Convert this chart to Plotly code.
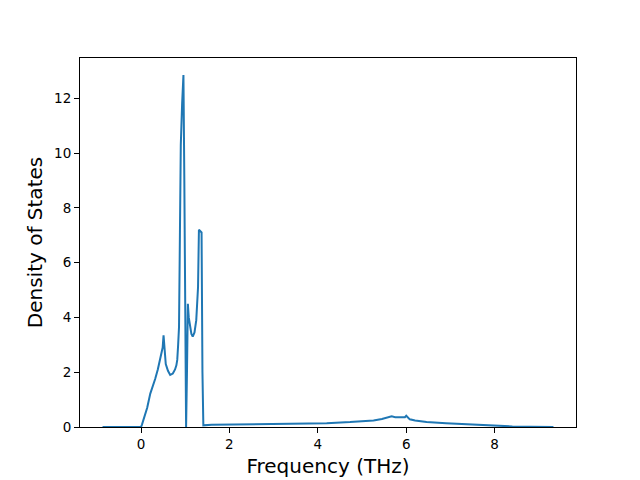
import plotly.graph_objects as go

freq = [-0.87, -0.5, 0.0, 0.02, 0.08, 0.14, 0.21, 0.27, 0.32, 0.38, 0.44, 0.49, 0.51, 0.53, 0.56, 0.61, 0.66, 0.72, 0.77, 0.80, 0.82, 0.84, 0.86, 0.88, 0.90, 0.93, 0.96, 0.98, 1.00, 1.02, 1.04, 1.06, 1.08, 1.11, 1.14, 1.17, 1.21, 1.25, 1.27, 1.29, 1.31, 1.33, 1.37, 1.39, 1.41, 1.6, 2.0, 2.5, 3.0, 3.6, 4.2, 4.73, 5.0, 5.26, 5.45, 5.56, 5.62, 5.67, 5.75, 5.85, 5.93, 5.97, 6.0, 6.04, 6.08, 6.2, 6.46, 6.9, 7.37, 7.8, 8.12, 8.4, 8.8, 9.33]
dos = [0.0, 0.0, 0.0, 0.08, 0.35, 0.7, 1.22, 1.5, 1.75, 2.1, 2.5, 2.9, 3.35, 2.8, 2.3, 2.05, 1.9, 1.95, 2.1, 2.25, 2.45, 3.0, 3.65, 7.0, 10.3, 11.8, 12.85, 9.0, 3.0, 0.0, 2.0, 4.5, 4.0, 3.65, 3.4, 3.3, 3.45, 3.9, 4.4, 5.1, 7.2, 7.15, 7.1, 2.0, 0.06, 0.08, 0.09, 0.09, 0.1, 0.12, 0.14, 0.18, 0.2, 0.24, 0.29, 0.33, 0.36, 0.39, 0.36, 0.36, 0.34, 0.36, 0.41, 0.34, 0.28, 0.24, 0.18, 0.14, 0.1, 0.07, 0.04, 0.02, 0.01, 0.0]

fig = go.Figure()
fig.add_trace(go.Scatter(x=freq, y=dos, mode="lines",
                         line=dict(color="#1f77b4", width=2), showlegend=False))

axis_common = dict(showgrid=False, zeroline=False, showline=True, linecolor="black",
                   linewidth=1, mirror=True, ticks="outside", ticklen=5, tickwidth=1,
                   tickcolor="black", automargin=False,
                   tickfont=dict(family="DejaVu Sans", size=13.5, color="black"))

fig.update_xaxes(range=[-1.38, 9.84], tickvals=[0, 2, 4, 6, 8],
                 title=dict(text="Frequency (THz)", font=dict(family="DejaVu Sans", size=20, color="black"), standoff=7),
                 **axis_common)
fig.update_yaxes(range=[0, 13.47], tickvals=[0, 2, 4, 6, 8, 10, 12],
                 title=dict(text="Density of States", font=dict(family="DejaVu Sans", size=20, color="black"), standoff=6),
                 **axis_common)

fig.update_layout(width=640, height=480, margin=dict(l=72, r=72, t=50, b=61),
                  plot_bgcolor="white", paper_bgcolor="white",
                  font=dict(family="DejaVu Sans"))

fig.write_html("out.html")
